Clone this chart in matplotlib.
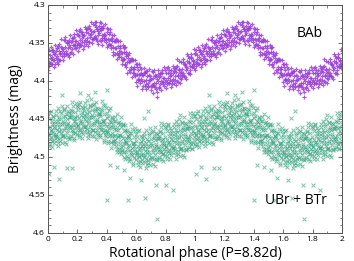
import matplotlib
matplotlib.use('Agg')
import matplotlib.pyplot as plt
import numpy as np
from matplotlib.ticker import MultipleLocator, FuncFormatter

plt.rcParams['font.family'] = ['Open Sans', 'DejaVu Sans']

# BAb light curve, one rotation (drawn twice: phase and phase + 1)
bab_phase = [
    0.003, 0.006, 0.010, 0.014, 0.017, 0.020, 0.024, 0.028, 0.031, 0.034, 0.038, 0.042, 0.045, 0.048,
    0.053, 0.056, 0.060, 0.064, 0.067, 0.070, 0.074, 0.078, 0.081, 0.084, 0.088, 0.092, 0.095, 0.098,
    0.103, 0.106, 0.110, 0.114, 0.117, 0.120, 0.124, 0.128, 0.131, 0.134, 0.138, 0.142, 0.145, 0.148,
    0.153, 0.156, 0.160, 0.164, 0.167, 0.170, 0.174, 0.178, 0.181, 0.184, 0.188, 0.192, 0.195, 0.198,
    0.203, 0.206, 0.210, 0.214, 0.217, 0.220, 0.224, 0.228, 0.231, 0.234, 0.238, 0.242, 0.245, 0.248,
    0.253, 0.256, 0.260, 0.264, 0.267, 0.270, 0.274, 0.278, 0.281, 0.284, 0.288, 0.292, 0.295, 0.298,
    0.303, 0.306, 0.310, 0.314, 0.317, 0.320, 0.324, 0.328, 0.331, 0.334, 0.338, 0.342, 0.345, 0.348,
    0.353, 0.356, 0.360, 0.364, 0.367, 0.370, 0.374, 0.378, 0.381, 0.384, 0.388, 0.392, 0.395, 0.398,
    0.403, 0.406, 0.410, 0.414, 0.417, 0.420, 0.424, 0.428, 0.431, 0.434, 0.438, 0.442, 0.445, 0.448,
    0.453, 0.456, 0.460, 0.464, 0.467, 0.470, 0.474, 0.478, 0.481, 0.484, 0.488, 0.492, 0.495, 0.498,
    0.503, 0.506, 0.510, 0.514, 0.517, 0.520, 0.524, 0.528, 0.531, 0.534, 0.538, 0.542, 0.545, 0.548,
    0.553, 0.556, 0.560, 0.564, 0.567, 0.570, 0.574, 0.578, 0.581, 0.584, 0.588, 0.592, 0.595, 0.598,
    0.603, 0.606, 0.610, 0.614, 0.617, 0.620, 0.624, 0.628, 0.631, 0.634, 0.638, 0.642, 0.645, 0.648,
    0.653, 0.656, 0.660, 0.664, 0.667, 0.670, 0.674, 0.678, 0.681, 0.684, 0.688, 0.692, 0.695, 0.698,
    0.703, 0.706, 0.710, 0.714, 0.717, 0.720, 0.724, 0.728, 0.731, 0.734, 0.738, 0.742, 0.745, 0.748,
    0.753, 0.756, 0.760, 0.764, 0.767, 0.770, 0.774, 0.778, 0.781, 0.784, 0.788, 0.792, 0.795, 0.798,
    0.803, 0.806, 0.810, 0.814, 0.817, 0.820, 0.824, 0.828, 0.831, 0.834, 0.838, 0.842, 0.845, 0.848,
    0.853, 0.856, 0.860, 0.864, 0.867, 0.870, 0.874, 0.878, 0.881, 0.884, 0.888, 0.892, 0.895, 0.898,
    0.903, 0.906, 0.910, 0.914, 0.917, 0.920, 0.924, 0.928, 0.931, 0.934, 0.938, 0.942, 0.945, 0.948,
    0.953, 0.956, 0.960, 0.964, 0.967, 0.970, 0.974, 0.978, 0.981, 0.984, 0.988, 0.992, 0.995, 0.998,
    0.712, 0.741, 0.327, 0.362, 0.878, 0.946, 0.604, 0.522,
]
bab_mag = [
    4.365, 4.375, 4.380, 4.366, 4.371, 4.378, 4.359, 4.368, 4.373, 4.359, 4.365, 4.373, 4.378, 4.364,
    4.370, 4.360, 4.356, 4.367, 4.371, 4.354, 4.360, 4.372, 4.372, 4.363, 4.355, 4.357, 4.360, 4.367,
    4.358, 4.367, 4.364, 4.355, 4.346, 4.361, 4.364, 4.349, 4.350, 4.366, 4.357, 4.352, 4.346, 4.355,
    4.363, 4.349, 4.348, 4.358, 4.353, 4.343, 4.342, 4.353, 4.356, 4.348, 4.347, 4.357, 4.353, 4.338,
    4.340, 4.350, 4.355, 4.341, 4.346, 4.353, 4.335, 4.344, 4.349, 4.335, 4.341, 4.349, 4.354, 4.340,
    4.346, 4.336, 4.332, 4.343, 4.347, 4.330, 4.337, 4.349, 4.349, 4.340, 4.332, 4.334, 4.338, 4.345,
    4.336, 4.345, 4.343, 4.334, 4.326, 4.341, 4.344, 4.329, 4.331, 4.347, 4.339, 4.334, 4.328, 4.337,
    4.346, 4.332, 4.333, 4.343, 4.340, 4.330, 4.330, 4.341, 4.346, 4.338, 4.339, 4.349, 4.345, 4.330,
    4.335, 4.345, 4.352, 4.338, 4.346, 4.353, 4.336, 4.345, 4.353, 4.339, 4.347, 4.355, 4.362, 4.348,
    4.357, 4.347, 4.345, 4.356, 4.363, 4.346, 4.354, 4.366, 4.369, 4.360, 4.354, 4.356, 4.362, 4.369,
    4.363, 4.372, 4.371, 4.362, 4.356, 4.371, 4.377, 4.362, 4.365, 4.381, 4.375, 4.370, 4.366, 4.375,
    4.386, 4.372, 4.374, 4.384, 4.381, 4.371, 4.373, 4.384, 4.390, 4.382, 4.384, 4.394, 4.392, 4.377,
    4.381, 4.391, 4.399, 4.385, 4.392, 4.399, 4.382, 4.391, 4.398, 4.384, 4.392, 4.400, 4.406, 4.392,
    4.400, 4.390, 4.388, 4.399, 4.404, 4.387, 4.394, 4.406, 4.408, 4.399, 4.392, 4.394, 4.399, 4.406,
    4.398, 4.407, 4.405, 4.396, 4.388, 4.403, 4.407, 4.392, 4.394, 4.410, 4.402, 4.397, 4.391, 4.400,
    4.409, 4.395, 4.394, 4.404, 4.400, 4.390, 4.390, 4.401, 4.404, 4.396, 4.396, 4.406, 4.401, 4.386,
    4.389, 4.399, 4.404, 4.390, 4.396, 4.403, 4.385, 4.394, 4.399, 4.385, 4.392, 4.400, 4.404, 4.390,
    4.397, 4.387, 4.383, 4.394, 4.399, 4.382, 4.388, 4.400, 4.401, 4.392, 4.384, 4.386, 4.389, 4.396,
    4.388, 4.397, 4.393, 4.384, 4.375, 4.390, 4.393, 4.378, 4.379, 4.395, 4.386, 4.381, 4.374, 4.383,
    4.390, 4.376, 4.375, 4.385, 4.380, 4.370, 4.369, 4.380, 4.382, 4.374, 4.373, 4.383, 4.378, 4.363,
    4.416, 4.421, 4.323, 4.324, 4.371, 4.364, 4.407, 4.355,
]
# looser BAb points at the edges of the band
bab_phase_edge = [
    0.001, 0.008, 0.012, 0.019, 0.026, 0.033, 0.040,
    0.051, 0.058, 0.062, 0.069, 0.076, 0.083, 0.090,
    0.101, 0.108, 0.112, 0.119, 0.126, 0.133, 0.140,
    0.151, 0.158, 0.162, 0.169, 0.176, 0.183, 0.190,
    0.201, 0.208, 0.212, 0.219, 0.226, 0.233, 0.240,
    0.251, 0.258, 0.262, 0.269, 0.276, 0.283, 0.290,
    0.301, 0.308, 0.312, 0.319, 0.326, 0.333, 0.340,
    0.351, 0.358, 0.362, 0.369, 0.376, 0.383, 0.390,
    0.401, 0.408, 0.412, 0.419, 0.426, 0.433, 0.440,
    0.451, 0.458, 0.462, 0.469, 0.476, 0.483, 0.490,
    0.501, 0.508, 0.512, 0.519, 0.526, 0.533, 0.540,
    0.551, 0.558, 0.562, 0.569, 0.576, 0.583, 0.590,
    0.601, 0.608, 0.612, 0.619, 0.626, 0.633, 0.640,
    0.651, 0.658, 0.662, 0.669, 0.676, 0.683, 0.690,
    0.701, 0.708, 0.712, 0.719, 0.726, 0.733, 0.740,
    0.751, 0.758, 0.762, 0.769, 0.776, 0.783, 0.790,
    0.801, 0.808, 0.812, 0.819, 0.826, 0.833, 0.840,
    0.851, 0.858, 0.862, 0.869, 0.876, 0.883, 0.890,
    0.901, 0.908, 0.912, 0.919, 0.926, 0.933, 0.940,
    0.951, 0.958, 0.962, 0.969, 0.976, 0.983, 0.990,
]
bab_mag_edge = [
    4.385, 4.359, 4.376, 4.355, 4.377, 4.362, 4.382,
    4.353, 4.375, 4.356, 4.377, 4.351, 4.365, 4.345,
    4.372, 4.346, 4.363, 4.342, 4.364, 4.349, 4.369,
    4.340, 4.362, 4.343, 4.364, 4.338, 4.352, 4.333,
    4.360, 4.334, 4.351, 4.331, 4.353, 4.338, 4.358,
    4.329, 4.351, 4.332, 4.354, 4.328, 4.342, 4.323,
    4.350, 4.325, 4.343, 4.322, 4.345, 4.331, 4.351,
    4.323, 4.347, 4.330, 4.352, 4.328, 4.344, 4.325,
    4.355, 4.331, 4.351, 4.332, 4.357, 4.344, 4.366,
    4.340, 4.364, 4.348, 4.371, 4.348, 4.364, 4.347,
    4.377, 4.353, 4.373, 4.355, 4.379, 4.367, 4.389,
    4.363, 4.388, 4.371, 4.395, 4.372, 4.389, 4.372,
    4.401, 4.378, 4.397, 4.378, 4.402, 4.389, 4.410,
    4.383, 4.407, 4.389, 4.411, 4.387, 4.402, 4.384,
    4.412, 4.387, 4.405, 4.385, 4.408, 4.394, 4.414,
    4.386, 4.408, 4.390, 4.412, 4.386, 4.401, 4.381,
    4.409, 4.383, 4.401, 4.381, 4.403, 4.389, 4.408,
    4.380, 4.402, 4.384, 4.405, 4.380, 4.394, 4.374,
    4.402, 4.375, 4.392, 4.371, 4.393, 4.378, 4.397,
    4.367, 4.389, 4.370, 4.391, 4.364, 4.378, 4.358,
]

# UBr + BTr light curve, one rotation
ubr_phase = [
    0.002, 0.005, 0.009, 0.012, 0.016, 0.019, 0.023, 0.026, 0.030, 0.033, 0.037, 0.040, 0.044, 0.047,
    0.052, 0.055, 0.059, 0.062, 0.066, 0.069, 0.073, 0.076, 0.080, 0.083, 0.087, 0.090, 0.094, 0.097,
    0.102, 0.105, 0.109, 0.112, 0.116, 0.119, 0.123, 0.126, 0.130, 0.133, 0.137, 0.140, 0.144, 0.147,
    0.152, 0.155, 0.159, 0.162, 0.166, 0.169, 0.173, 0.176, 0.180, 0.183, 0.187, 0.190, 0.194, 0.197,
    0.202, 0.205, 0.209, 0.212, 0.216, 0.219, 0.223, 0.226, 0.230, 0.233, 0.237, 0.240, 0.244, 0.247,
    0.252, 0.255, 0.259, 0.262, 0.266, 0.269, 0.273, 0.276, 0.280, 0.283, 0.287, 0.290, 0.294, 0.297,
    0.302, 0.305, 0.309, 0.312, 0.316, 0.319, 0.323, 0.326, 0.330, 0.333, 0.337, 0.340, 0.344, 0.347,
    0.352, 0.355, 0.359, 0.362, 0.366, 0.369, 0.373, 0.376, 0.380, 0.383, 0.387, 0.390, 0.394, 0.397,
    0.402, 0.405, 0.409, 0.412, 0.416, 0.419, 0.423, 0.426, 0.430, 0.433, 0.437, 0.440, 0.444, 0.447,
    0.452, 0.455, 0.459, 0.462, 0.466, 0.469, 0.473, 0.476, 0.480, 0.483, 0.487, 0.490, 0.494, 0.497,
    0.502, 0.505, 0.509, 0.512, 0.516, 0.519, 0.523, 0.526, 0.530, 0.533, 0.537, 0.540, 0.544, 0.547,
    0.552, 0.555, 0.559, 0.562, 0.566, 0.569, 0.573, 0.576, 0.580, 0.583, 0.587, 0.590, 0.594, 0.597,
    0.602, 0.605, 0.609, 0.612, 0.616, 0.619, 0.623, 0.626, 0.630, 0.633, 0.637, 0.640, 0.644, 0.647,
    0.652, 0.655, 0.659, 0.662, 0.666, 0.669, 0.673, 0.676, 0.680, 0.683, 0.687, 0.690, 0.694, 0.697,
    0.702, 0.705, 0.709, 0.712, 0.716, 0.719, 0.723, 0.726, 0.730, 0.733, 0.737, 0.740, 0.744, 0.747,
    0.752, 0.755, 0.759, 0.762, 0.766, 0.769, 0.773, 0.776, 0.780, 0.783, 0.787, 0.790, 0.794, 0.797,
    0.802, 0.805, 0.809, 0.812, 0.816, 0.819, 0.823, 0.826, 0.830, 0.833, 0.837, 0.840, 0.844, 0.847,
    0.852, 0.855, 0.859, 0.862, 0.866, 0.869, 0.873, 0.876, 0.880, 0.883, 0.887, 0.890, 0.894, 0.897,
    0.902, 0.905, 0.909, 0.912, 0.916, 0.919, 0.923, 0.926, 0.930, 0.933, 0.937, 0.940, 0.944, 0.947,
    0.952, 0.955, 0.959, 0.962, 0.966, 0.969, 0.973, 0.976, 0.980, 0.983, 0.987, 0.990, 0.994, 0.997,
    0.010, 0.040, 0.077, 0.130, 0.160, 0.093, 0.218, 0.320, 0.400, 0.400, 0.420, 0.470, 0.520,
    0.546, 0.630, 0.650, 0.660, 0.680, 0.735, 0.740, 0.800, 0.850, 0.900, 0.270, 0.560,
]
ubr_mag = [
    4.446, 4.471, 4.486, 4.461, 4.476, 4.440, 4.464, 4.479, 4.453, 4.467, 4.448, 4.482, 4.457, 4.472,
    4.472, 4.440, 4.464, 4.478, 4.453, 4.486, 4.448, 4.460, 4.457, 4.479, 4.442, 4.465, 4.433, 4.473,
    4.452, 4.472, 4.438, 4.465, 4.480, 4.446, 4.459, 4.433, 4.469, 4.455, 4.474, 4.442, 4.461, 4.447,
    4.475, 4.447, 4.438, 4.464, 4.427, 4.458, 4.468, 4.449, 4.477, 4.441, 4.453, 4.461, 4.433, 4.470,
    4.434, 4.459, 4.474, 4.449, 4.464, 4.428, 4.452, 4.467, 4.441, 4.455, 4.436, 4.470, 4.445, 4.460,
    4.461, 4.429, 4.453, 4.467, 4.442, 4.475, 4.437, 4.451, 4.448, 4.470, 4.433, 4.456, 4.424, 4.464,
    4.445, 4.465, 4.431, 4.458, 4.473, 4.439, 4.452, 4.428, 4.464, 4.450, 4.469, 4.437, 4.456, 4.442,
    4.474, 4.446, 4.437, 4.463, 4.426, 4.457, 4.467, 4.452, 4.480, 4.444, 4.456, 4.464, 4.436, 4.473,
    4.442, 4.467, 4.482, 4.457, 4.472, 4.436, 4.460, 4.480, 4.454, 4.468, 4.449, 4.483, 4.458, 4.473,
    4.479, 4.447, 4.471, 4.485, 4.460, 4.493, 4.455, 4.474, 4.471, 4.493, 4.456, 4.479, 4.447, 4.487,
    4.472, 4.492, 4.458, 4.485, 4.500, 4.466, 4.479, 4.458, 4.494, 4.480, 4.499, 4.467, 4.486, 4.472,
    4.505, 4.477, 4.468, 4.494, 4.457, 4.488, 4.498, 4.482, 4.510, 4.474, 4.486, 4.494, 4.466, 4.503,
    4.470, 4.495, 4.510, 4.485, 4.500, 4.464, 4.488, 4.505, 4.479, 4.493, 4.474, 4.508, 4.483, 4.498,
    4.500, 4.468, 4.492, 4.506, 4.481, 4.514, 4.476, 4.489, 4.486, 4.508, 4.471, 4.494, 4.462, 4.502,
    4.481, 4.501, 4.467, 4.494, 4.509, 4.475, 4.488, 4.461, 4.497, 4.483, 4.502, 4.470, 4.489, 4.475,
    4.503, 4.475, 4.466, 4.492, 4.455, 4.486, 4.496, 4.477, 4.505, 4.469, 4.481, 4.489, 4.461, 4.498,
    4.462, 4.487, 4.502, 4.477, 4.492, 4.456, 4.480, 4.495, 4.469, 4.483, 4.464, 4.498, 4.473, 4.488,
    4.488, 4.456, 4.480, 4.494, 4.469, 4.502, 4.464, 4.477, 4.474, 4.496, 4.459, 4.482, 4.450, 4.490,
    4.469, 4.489, 4.455, 4.482, 4.497, 4.463, 4.476, 4.448, 4.484, 4.470, 4.489, 4.457, 4.476, 4.462,
    4.490, 4.462, 4.453, 4.479, 4.442, 4.473, 4.483, 4.462, 4.490, 4.454, 4.466, 4.474, 4.446, 4.483,
    4.522, 4.513, 4.529, 4.515, 4.515, 4.419, 4.416, 4.415, 4.412, 4.557, 4.510, 4.513, 4.517,
    4.557, 4.530, 4.449, 4.554, 4.440, 4.537, 4.581, 4.537, 4.543, 4.445, 4.418, 4.527,
]
ubr_phase_b = [
    0.004, 0.007, 0.011, 0.014, 0.018, 0.021, 0.025, 0.028, 0.032, 0.035, 0.039, 0.042, 0.046, 0.049,
    0.054, 0.057, 0.061, 0.064, 0.068, 0.071, 0.075, 0.078, 0.082, 0.085, 0.089, 0.092, 0.096, 0.099,
    0.104, 0.107, 0.111, 0.114, 0.118, 0.121, 0.125, 0.128, 0.132, 0.135, 0.139, 0.142, 0.146, 0.149,
    0.154, 0.157, 0.161, 0.164, 0.168, 0.171, 0.175, 0.178, 0.182, 0.185, 0.189, 0.192, 0.196, 0.199,
    0.204, 0.207, 0.211, 0.214, 0.218, 0.221, 0.225, 0.228, 0.232, 0.235, 0.239, 0.242, 0.246, 0.249,
    0.254, 0.257, 0.261, 0.264, 0.268, 0.271, 0.275, 0.278, 0.282, 0.285, 0.289, 0.292, 0.296, 0.299,
    0.304, 0.307, 0.311, 0.314, 0.318, 0.321, 0.325, 0.328, 0.332, 0.335, 0.339, 0.342, 0.346, 0.349,
    0.354, 0.357, 0.361, 0.364, 0.368, 0.371, 0.375, 0.378, 0.382, 0.385, 0.389, 0.392, 0.396, 0.399,
    0.404, 0.407, 0.411, 0.414, 0.418, 0.421, 0.425, 0.428, 0.432, 0.435, 0.439, 0.442, 0.446, 0.449,
    0.454, 0.457, 0.461, 0.464, 0.468, 0.471, 0.475, 0.478, 0.482, 0.485, 0.489, 0.492, 0.496, 0.499,
    0.504, 0.507, 0.511, 0.514, 0.518, 0.521, 0.525, 0.528, 0.532, 0.535, 0.539, 0.542, 0.546, 0.549,
    0.554, 0.557, 0.561, 0.564, 0.568, 0.571, 0.575, 0.578, 0.582, 0.585, 0.589, 0.592, 0.596, 0.599,
    0.604, 0.607, 0.611, 0.614, 0.618, 0.621, 0.625, 0.628, 0.632, 0.635, 0.639, 0.642, 0.646, 0.649,
    0.654, 0.657, 0.661, 0.664, 0.668, 0.671, 0.675, 0.678, 0.682, 0.685, 0.689, 0.692, 0.696, 0.699,
    0.704, 0.707, 0.711, 0.714, 0.718, 0.721, 0.725, 0.728, 0.732, 0.735, 0.739, 0.742, 0.746, 0.749,
    0.754, 0.757, 0.761, 0.764, 0.768, 0.771, 0.775, 0.778, 0.782, 0.785, 0.789, 0.792, 0.796, 0.799,
    0.804, 0.807, 0.811, 0.814, 0.818, 0.821, 0.825, 0.828, 0.832, 0.835, 0.839, 0.842, 0.846, 0.849,
    0.854, 0.857, 0.861, 0.864, 0.868, 0.871, 0.875, 0.878, 0.882, 0.885, 0.889, 0.892, 0.896, 0.899,
    0.904, 0.907, 0.911, 0.914, 0.918, 0.921, 0.925, 0.928, 0.932, 0.935, 0.939, 0.942, 0.946, 0.949,
    0.954, 0.957, 0.961, 0.964, 0.968, 0.971, 0.975, 0.978, 0.982, 0.985, 0.989, 0.992, 0.996, 0.999,
]
ubr_mag_b = [
    4.470, 4.450, 4.483, 4.442, 4.466, 4.475, 4.457, 4.487, 4.446, 4.471, 4.460, 4.478, 4.452, 4.462,
    4.445, 4.470, 4.457, 4.474, 4.436, 4.482, 4.466, 4.450, 4.475, 4.440, 4.469, 4.457, 4.482, 4.447,
    4.471, 4.455, 4.437, 4.462, 4.474, 4.444, 4.483, 4.450, 4.457, 4.440, 4.465, 4.476, 4.448, 4.459,
    4.444, 4.472, 4.461, 4.439, 4.466, 4.433, 4.453, 4.475, 4.448, 4.468, 4.429, 4.456, 4.464, 4.446,
    4.458, 4.438, 4.471, 4.430, 4.454, 4.463, 4.445, 4.475, 4.434, 4.459, 4.448, 4.466, 4.440, 4.450,
    4.434, 4.459, 4.446, 4.463, 4.425, 4.471, 4.455, 4.441, 4.466, 4.431, 4.460, 4.448, 4.473, 4.438,
    4.464, 4.448, 4.430, 4.455, 4.467, 4.437, 4.476, 4.445, 4.452, 4.435, 4.460, 4.471, 4.443, 4.454,
    4.443, 4.471, 4.460, 4.438, 4.465, 4.432, 4.452, 4.478, 4.451, 4.471, 4.432, 4.459, 4.467, 4.449,
    4.466, 4.446, 4.479, 4.438, 4.462, 4.471, 4.453, 4.488, 4.447, 4.472, 4.461, 4.479, 4.453, 4.463,
    4.452, 4.477, 4.464, 4.481, 4.443, 4.489, 4.473, 4.464, 4.489, 4.454, 4.483, 4.471, 4.496, 4.461,
    4.491, 4.475, 4.457, 4.482, 4.494, 4.464, 4.503, 4.475, 4.482, 4.465, 4.490, 4.501, 4.473, 4.484,
    4.474, 4.502, 4.491, 4.469, 4.496, 4.463, 4.483, 4.508, 4.481, 4.501, 4.462, 4.489, 4.497, 4.479,
    4.494, 4.474, 4.507, 4.466, 4.490, 4.499, 4.481, 4.513, 4.472, 4.497, 4.486, 4.504, 4.478, 4.488,
    4.473, 4.498, 4.485, 4.502, 4.464, 4.510, 4.494, 4.479, 4.504, 4.469, 4.498, 4.486, 4.511, 4.476,
    4.500, 4.484, 4.466, 4.491, 4.503, 4.473, 4.512, 4.478, 4.485, 4.468, 4.493, 4.504, 4.476, 4.487,
    4.472, 4.500, 4.489, 4.467, 4.494, 4.461, 4.481, 4.503, 4.476, 4.496, 4.457, 4.484, 4.492, 4.474,
    4.486, 4.466, 4.499, 4.458, 4.482, 4.491, 4.473, 4.503, 4.462, 4.487, 4.476, 4.494, 4.468, 4.478,
    4.461, 4.486, 4.473, 4.490, 4.452, 4.498, 4.482, 4.467, 4.492, 4.457, 4.486, 4.474, 4.499, 4.464,
    4.488, 4.472, 4.454, 4.479, 4.491, 4.461, 4.500, 4.465, 4.472, 4.455, 4.480, 4.491, 4.463, 4.474,
    4.459, 4.487, 4.476, 4.454, 4.481, 4.448, 4.468, 4.488, 4.461, 4.481, 4.442, 4.469, 4.477, 4.459,
]

x_ticks = [0, 0.2, 0.4, 0.6, 0.8, 1, 1.2, 1.4, 1.6, 1.8, 2]
y_ticks = [4.3, 4.35, 4.4, 4.45, 4.5, 4.55, 4.6]

# the folded curve is shown over two rotations
bp = np.concatenate([bab_phase, bab_phase_edge])
bm = np.concatenate([bab_mag, bab_mag_edge])
up = np.concatenate([ubr_phase, ubr_phase_b])
um = np.concatenate([ubr_mag, ubr_mag_b])
bab_x = np.concatenate([bp, bp + 1])
bab_y = np.concatenate([bm, bm])
ubr_x = np.concatenate([up, up + 1])
ubr_y = np.concatenate([um, um])

fig = plt.figure(figsize=(3.54, 2.61), dpi=100)
ax = fig.add_axes([0.1356, 0.1073, 0.8305, 0.8736])

ax.scatter(ubr_x, ubr_y, marker='x', s=8, linewidths=0.75, color='#35a07d', alpha=0.6)
ax.scatter(bab_x, bab_y, marker='+', s=12, linewidths=0.9, color='#9a43d6', alpha=0.85)

ax.set_xlim(0, 2)
ax.set_ylim(4.6, 4.3)
ax.set_xticks(x_ticks)
ax.set_yticks(y_ticks)
ax.xaxis.set_minor_locator(MultipleLocator(0.1))
ax.yaxis.set_minor_locator(MultipleLocator(0.01))
fmt = FuncFormatter(lambda v, pos: '%g' % v)
ax.xaxis.set_major_formatter(fmt)
ax.yaxis.set_major_formatter(fmt)
ax.tick_params(which='both', direction='in', top=True, right=True, labelsize=6,
               color='#555555', pad=2)
ax.tick_params(which='major', length=3, width=0.6)
ax.tick_params(which='minor', length=1.8, width=0.5)
for s in ax.spines.values():
    s.set_color('#555555')
    s.set_linewidth(0.7)

ax.set_xlabel('Rotational phase (P=8.82d)', fontsize=10, labelpad=2)
ax.set_ylabel('Brightness (mag)', fontsize=10, labelpad=4)

ax.text(1.78, 4.338, 'BAb', fontsize=10, ha='center', va='center')
ax.text(1.69, 4.557, 'UBr + BTr', fontsize=10, ha='center', va='center')

fig.savefig('out.png', dpi=100)
